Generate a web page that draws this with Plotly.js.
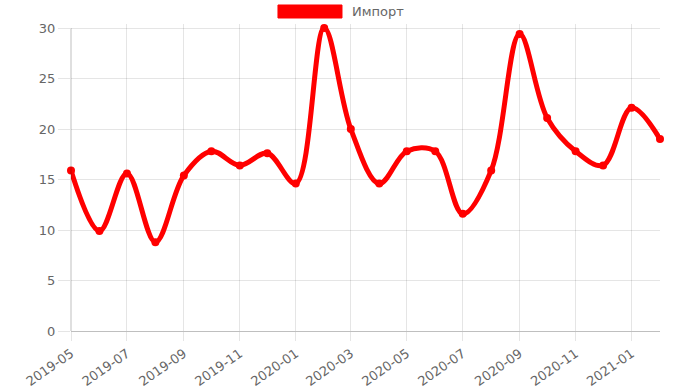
<!DOCTYPE html>
<html>
<head>
<meta charset="utf-8">
<script src="https://cdn.plot.ly/plotly-3.0.1.min.js"></script>
<style>
  html, body { margin: 0; padding: 0; background: #fff; }
  #chart { width: 687px; height: 389px; }
</style>
</head>
<body>
<div id="chart"></div>
<script>
const months = [
  '2019-05-01','2019-06-01','2019-07-01','2019-08-01','2019-09-01','2019-10-01',
  '2019-11-01','2019-12-01','2020-01-01','2020-02-01','2020-03-01','2020-04-01',
  '2020-05-01','2020-06-01','2020-07-01','2020-08-01','2020-09-01','2020-10-01',
  '2020-11-01','2020-12-01','2021-01-01','2021-02-01'
];
const importValues = [
  15.9, 9.9, 15.6, 8.8, 15.4, 17.8,
  16.4, 17.6, 14.6, 30.0, 20.0, 14.6,
  17.8, 17.8, 11.6, 15.9, 29.4, 21.1,
  17.8, 16.4, 22.1, 19.0
];
const seriesName = 'Импорт';
const xTickValues = ['2019-05-01','2019-07-01','2019-09-01','2019-11-01','2020-01-01','2020-03-01',
  '2020-05-01','2020-07-01','2020-09-01','2020-11-01','2021-01-01'];
const xTickLabels = ['2019-05','2019-07','2019-09','2019-11','2020-01','2020-03',
  '2020-05','2020-07','2020-09','2020-11','2021-01'];
const yTickValues = [0, 5, 10, 15, 20, 25, 30];

const red = '#ff0000';
const grid = 'rgba(0,0,0,0.1)';
const fontFam = 'DejaVu Sans, Liberation Sans, Arial, sans-serif';

const trace = {
  x: months,
  y: importValues,
  type: 'scatter',
  mode: 'lines+markers',
  name: seriesName,
  cliponaxis: false,
  line: { color: red, width: 5, shape: 'spline', smoothing: 1 },
  marker: { color: red, size: 8 },
  showlegend: false,
  hoverinfo: 'x+y'
};

const layout = {
  width: 687,
  height: 389,
  margin: { l: 71, r: 27, t: 24, b: 58 },
  paper_bgcolor: '#fff',
  plot_bgcolor: '#fff',
  font: { family: fontFam, size: 13, color: '#666' },
  xaxis: {
    type: 'date',
    range: ['2019-05-01', '2021-02-01'],
    tickmode: 'array',
    tickvals: xTickValues,
    ticktext: xTickLabels,
    tickangle: -35,
    ticks: 'outside',
    ticklen: 9,
    tickcolor: grid,
    showgrid: true,
    gridcolor: grid,
    showline: true,
    linecolor: 'rgba(0,0,0,0.25)',
    zeroline: false,
    tickfont: { family: fontFam, size: 13, color: '#666' }
  },
  yaxis: {
    range: [0, 30.4],
    tickmode: 'array',
    tickvals: yTickValues,
    ticks: 'outside',
    ticklen: 12,
    tickcolor: grid,
    showgrid: true,
    gridcolor: grid,
    showline: false,
    zeroline: false,
    tickfont: { family: fontFam, size: 13, color: '#666' }
  },
  shapes: [{
    type: 'line', xref: 'paper', yref: 'y',
    x0: 0, x1: 0, y0: 0, y1: 30,
    line: { color: 'rgba(0,0,0,0.25)', width: 1 }
  }, {
    type: 'rect', xref: 'paper', yref: 'paper',
    x0: 0.3514, x1: 0.4601, y0: 1.0195, y1: 1.0619,
    fillcolor: red, line: { color: red, width: 1 }
  }],
  annotations: [{
    xref: 'paper', yref: 'paper', x: 0.4737, y: 1.0391,
    xanchor: 'left', yanchor: 'middle', showarrow: false,
    text: seriesName,
    font: { family: fontFam, size: 13, color: '#666' }
  }]
};

Plotly.newPlot('chart', [trace], layout, { displayModeBar: false, staticPlot: true });
</script>
</body>
</html>
